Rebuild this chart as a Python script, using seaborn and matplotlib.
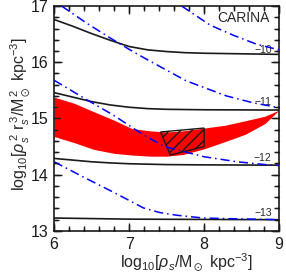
import numpy as np
import pandas as pd
import matplotlib
matplotlib.use("Agg")
import matplotlib.pyplot as plt
from matplotlib.ticker import MultipleLocator
import seaborn as sns

# black curves (labelled -10 ... -13)
black_curves = {
    "\u221210": ([6.0, 6.25, 6.5, 6.75, 7.0, 7.25, 7.5, 7.75, 8.0, 8.5, 9.0],
                 [16.76, 16.64, 16.51, 16.39, 16.28, 16.22, 16.19, 16.17, 16.16, 16.15, 16.14]),
    "\u221211": ([6.0, 6.25, 6.5, 6.75, 7.0, 7.25, 7.5, 8.0, 9.0],
                 [15.46, 15.38, 15.30, 15.24, 15.20, 15.175, 15.163, 15.155, 15.15]),
    "\u221212": ([6.0, 6.25, 6.5, 6.75, 7.0, 7.5, 8.0, 9.0],
                 [14.29, 14.26, 14.23, 14.21, 14.195, 14.18, 14.175, 14.17]),
    "\u221213": ([6.0, 7.0, 9.0],
                 [13.23, 13.21, 13.20]),
}
label_y = [16.22, 15.30, 14.30, 13.32]

# blue dash-dot curves
blue_curves = [
    ([6.10, 6.44, 6.75, 7.0, 7.21, 7.76, 8.3, 8.65, 9.0],
     [17.0, 16.69, 16.43, 16.23, 16.07, 15.67, 15.40, 15.28, 15.19]),
    ([7.70, 8.08, 8.39, 8.70, 9.0],
     [17.0, 16.66, 16.48, 16.32, 16.22]),
    ([6.0, 6.44, 6.79, 7.19, 7.47, 8.0, 8.44, 8.89, 9.0],
     [15.68, 15.33, 15.06, 14.71, 14.50, 14.32, 14.23, 14.17, 14.165]),
    ([6.0, 6.39, 6.79, 7.19, 7.4, 7.63, 7.99, 8.3, 9.0],
     [14.23, 13.96, 13.69, 13.41, 13.33, 13.28, 13.23, 13.22, 13.20]),
]

# red allowed band
band_x = [6.0, 6.27, 6.53, 6.8, 7.04, 7.28, 7.5, 7.72, 8.0, 8.28, 8.55, 8.81, 9.0]
band_hi = [15.38, 15.27, 15.12, 14.97, 14.82, 14.78, 14.76, 14.78, 14.83, 14.88, 14.96, 15.04, 15.15]
band_lo = [14.68, 14.57, 14.45, 14.38, 14.35, 14.33, 14.33, 14.36, 14.46, 14.59, 14.72, 14.91, 15.15]

# hatched region
box_x = [7.42, 8.0, 8.0, 7.55]
box_y = [14.76, 14.83, 14.50, 14.35]

sns.set_theme(style="ticks")
plt.rcParams["font.family"] = ["Liberation Sans", "DejaVu Sans"]
plt.rcParams["mathtext.fontset"] = "custom"
plt.rcParams["mathtext.rm"] = "Liberation Sans"
plt.rcParams["mathtext.it"] = "Liberation Sans:italic"
plt.rcParams["mathtext.fallback"] = "stixsans"
plt.rcParams["hatch.linewidth"] = 1.0

fig = plt.figure(figsize=(2.86, 2.73), dpi=100)
ax = fig.add_axes([0.189, 0.154, 0.787, 0.824])

ax.fill_between(band_x, band_lo, band_hi, color="#ff0000", lw=0, zorder=1)
ax.fill(box_x, box_y, facecolor="none", edgecolor="k", hatch="///", lw=1.0, zorder=3)

for (name, (xs, ys)), ly in zip(black_curves.items(), label_y):
    sns.lineplot(x=xs, y=ys, ax=ax, color="k", lw=1.2, zorder=2)
    ax.text(8.9, ly, name, fontsize=7.5, ha="right", va="center")

for xs, ys in blue_curves:
    sns.lineplot(x=xs, y=ys, ax=ax, color="#0000ff", lw=1.1, zorder=4,
                 linestyle=(0, (6, 2.6, 1, 2.6)))

ax.text(8.52, 16.79, "CARINA", fontsize=10, ha="center", va="center")

ax.set_xlim(6, 9)
ax.set_ylim(13, 17)
ax.set_xticks([6, 7, 8, 9])
ax.set_yticks([13, 14, 15, 16, 17])
ax.xaxis.set_minor_locator(MultipleLocator(0.2))
ax.yaxis.set_minor_locator(MultipleLocator(0.2))
ax.tick_params(which="both", direction="in", top=True, right=True, colors="k")
ax.tick_params(which="major", length=6, width=1.0, labelsize=11.5, pad=4)
ax.tick_params(which="minor", length=3.5, width=1.0)

# inward tick marks on all four sides, drawn as short segments
xmin, xmax = ax.get_xlim()
ymin, ymax = ax.get_ylim()
xtr = ax.get_xaxis_transform()
ytr = ax.get_yaxis_transform()
for locs, L in ((ax.get_xticks(), 0.026), (ax.xaxis.get_minorticklocs(), 0.015)):
    for v in locs:
        if xmin <= v <= xmax:
            ax.plot([v, v], [0, L], transform=xtr, color="k", lw=1.0, clip_on=False, zorder=6)
            ax.plot([v, v], [1 - L, 1], transform=xtr, color="k", lw=1.0, clip_on=False, zorder=6)
for locs, L in ((ax.get_yticks(), 0.026), (ax.yaxis.get_minorticklocs(), 0.015)):
    for v in locs:
        if ymin <= v <= ymax:
            ax.plot([0, L], [v, v], transform=ytr, color="k", lw=1.0, clip_on=False, zorder=6)
            ax.plot([1 - L, 1], [v, v], transform=ytr, color="k", lw=1.0, clip_on=False, zorder=6)
ax.set_xlim(xmin, xmax)
ax.set_ylim(ymin, ymax)

for s in ax.spines.values():
    s.set_linewidth(1.2)
    s.set_color("k")

ax.set_xlabel(r"log$_{10}$[$\rho_s$/M$_\odot$ kpc$^{-3}$]", fontsize=11.5)
ax.set_ylabel(r"log$_{10}$[$\rho_s^{\,2}$ r$_s^{\,3}$/M$_\odot^{\,2}$ kpc$^{-3}$]",
              fontsize=11.5)
ax.xaxis.set_label_coords(0.587, -0.089)
ax.yaxis.set_label_coords(-0.10, 0.52)

fig.savefig("out.png", dpi=100)
